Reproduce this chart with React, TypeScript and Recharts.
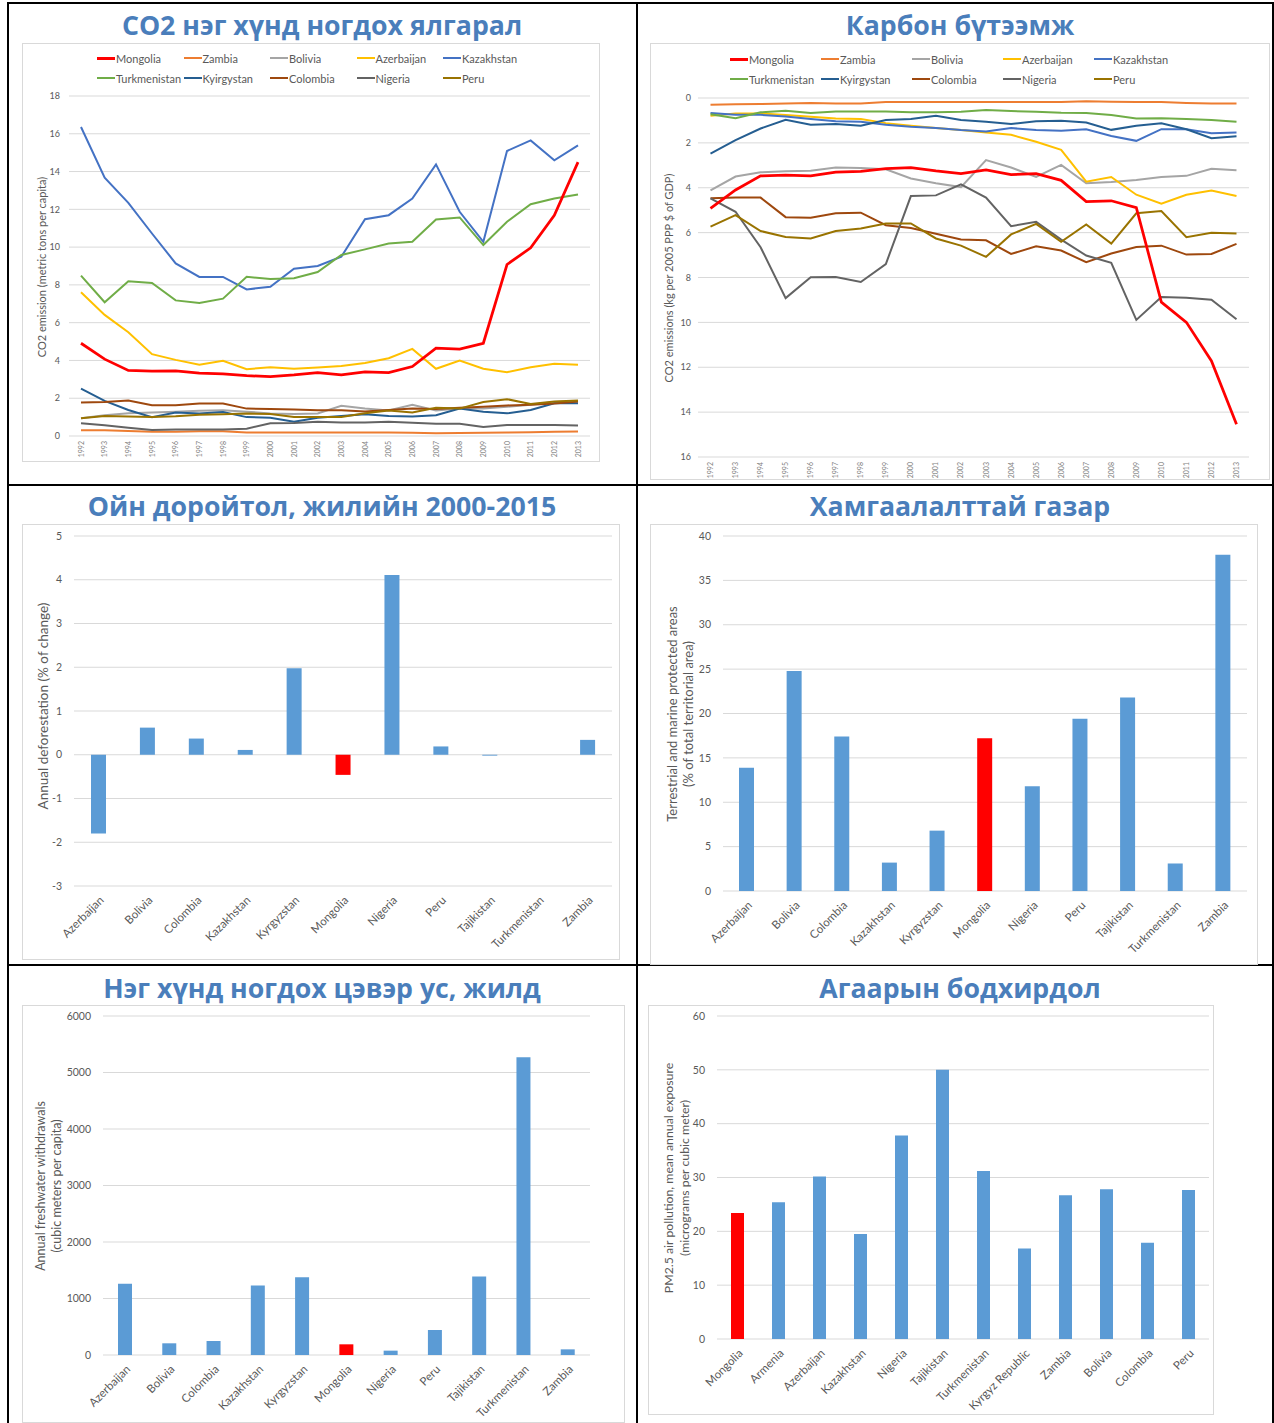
import React from 'react'
import { LineChart, Line, BarChart, Bar, Cell, XAxis, YAxis, CartesianGrid } from 'recharts'

const FONT = "Lato, 'Open Sans', sans-serif"
const TITLE_FONT = "'Open Sans', 'Noto Sans', sans-serif"
const TEXT = '#595959'
const GRID = '#d9d9d9'
const BLUE = '#5b9bd5'
const RED = '#ff0000'
const TITLE_BLUE = '#4a7ebb'

const years = ['1992', '1993', '1994', '1995', '1996', '1997', '1998', '1999', '2000', '2001', '2002',
  '2003', '2004', '2005', '2006', '2007', '2008', '2009', '2010', '2011', '2012', '2013']

// CO2 emission, metric tons per capita
const co2Mongolia = [4.91, 4.07, 3.47, 3.43, 3.45, 3.33, 3.29, 3.19, 3.15, 3.24, 3.36, 3.24, 3.40, 3.36, 3.68, 4.65, 4.60, 4.91, 9.08, 9.96, 11.69, 14.50]
const co2Zambia = [0.30, 0.30, 0.27, 0.23, 0.23, 0.25, 0.25, 0.19, 0.18, 0.18, 0.18, 0.18, 0.18, 0.18, 0.17, 0.14, 0.16, 0.17, 0.18, 0.20, 0.23, 0.24]
const co2Bolivia = [0.94, 1.10, 1.20, 1.24, 1.29, 1.34, 1.36, 1.29, 1.19, 1.17, 1.19, 1.60, 1.45, 1.35, 1.65, 1.35, 1.45, 1.45, 1.55, 1.65, 1.80, 1.85]
const co2Azerbaijan = [7.61, 6.41, 5.49, 4.33, 4.03, 3.77, 3.98, 3.54, 3.64, 3.56, 3.63, 3.71, 3.86, 4.12, 4.61, 3.56, 4.00, 3.56, 3.38, 3.64, 3.82, 3.77]
const co2Kazakhstan = [16.36, 13.68, 12.34, 10.72, 9.14, 8.42, 8.42, 7.76, 7.90, 8.86, 9.00, 9.49, 11.48, 11.69, 12.57, 14.38, 11.87, 10.28, 15.09, 15.65, 14.60, 15.39]
const co2Turkmenistan = [8.49, 7.08, 8.19, 8.10, 7.18, 7.04, 7.27, 8.43, 8.31, 8.35, 8.68, 9.58, 9.88, 10.19, 10.28, 11.46, 11.57, 10.11, 11.34, 12.27, 12.57, 12.78]
const co2Kyrgyzstan = [2.51, 1.86, 1.38, 1.00, 1.24, 1.19, 1.27, 1.00, 0.97, 0.76, 0.97, 1.06, 1.15, 1.06, 1.03, 1.10, 1.45, 1.29, 1.20, 1.38, 1.73, 1.73]
const co2Colombia = [1.77, 1.80, 1.88, 1.63, 1.63, 1.72, 1.72, 1.45, 1.43, 1.40, 1.36, 1.36, 1.30, 1.38, 1.45, 1.43, 1.50, 1.55, 1.62, 1.65, 1.72, 1.82]
const co2Nigeria = [0.67, 0.57, 0.44, 0.32, 0.34, 0.35, 0.35, 0.39, 0.67, 0.69, 0.76, 0.72, 0.72, 0.75, 0.70, 0.65, 0.65, 0.48, 0.58, 0.58, 0.58, 0.55]
const co2Peru = [0.94, 1.06, 1.03, 1.00, 1.04, 1.13, 1.15, 1.19, 1.17, 1.00, 1.00, 1.00, 1.20, 1.35, 1.25, 1.50, 1.45, 1.80, 1.95, 1.70, 1.82, 1.88]

// CO2 emissions, kg per 2005 PPP $ of GDP
const prodMongolia = [4.92, 4.10, 3.47, 3.44, 3.47, 3.30, 3.27, 3.15, 3.10, 3.25, 3.37, 3.20, 3.41, 3.37, 3.67, 4.62, 4.58, 4.89, 9.10, 10.00, 11.72, 14.54]
const prodZambia = [0.30, 0.28, 0.27, 0.25, 0.22, 0.24, 0.24, 0.18, 0.18, 0.18, 0.18, 0.18, 0.18, 0.18, 0.18, 0.15, 0.17, 0.18, 0.18, 0.22, 0.25, 0.25]
const prodBolivia = [4.12, 3.50, 3.31, 3.27, 3.24, 3.10, 3.12, 3.18, 3.59, 3.80, 3.97, 2.77, 3.10, 3.52, 2.98, 3.80, 3.74, 3.65, 3.52, 3.47, 3.15, 3.22]
const prodAzerbaijan = [0.79, 0.69, 0.69, 0.76, 0.84, 0.91, 0.94, 1.12, 1.24, 1.34, 1.43, 1.54, 1.64, 1.95, 2.31, 3.73, 3.52, 4.31, 4.71, 4.31, 4.12, 4.37]
const prodKazakhstan = [0.67, 0.75, 0.75, 0.82, 0.94, 1.04, 1.06, 1.19, 1.28, 1.34, 1.43, 1.49, 1.34, 1.43, 1.46, 1.39, 1.69, 1.91, 1.39, 1.39, 1.57, 1.54]
const prodTurkmenistan = [0.72, 0.90, 0.64, 0.57, 0.67, 0.60, 0.60, 0.60, 0.63, 0.64, 0.61, 0.54, 0.58, 0.61, 0.66, 0.67, 0.76, 0.91, 0.90, 0.94, 0.98, 1.06]
const prodKyrgyzstan = [2.48, 1.88, 1.36, 0.97, 1.19, 1.16, 1.24, 0.98, 0.94, 0.79, 0.98, 1.06, 1.16, 1.04, 1.01, 1.09, 1.42, 1.24, 1.13, 1.39, 1.79, 1.71]
const prodColombia = [4.47, 4.44, 4.44, 5.31, 5.34, 5.14, 5.11, 5.67, 5.79, 6.05, 6.31, 6.34, 6.95, 6.61, 6.80, 7.32, 6.93, 6.64, 6.58, 6.98, 6.95, 6.50]
const prodNigeria = [4.47, 5.07, 6.65, 8.92, 7.99, 7.98, 8.20, 7.40, 4.37, 4.34, 3.85, 4.44, 5.71, 5.52, 6.31, 7.02, 7.35, 9.89, 8.87, 8.90, 8.99, 9.86]
const prodPeru = [5.73, 5.22, 5.93, 6.19, 6.26, 5.93, 5.82, 5.59, 5.59, 6.26, 6.58, 7.08, 6.08, 5.61, 6.41, 5.64, 6.49, 5.14, 5.04, 6.20, 6.01, 6.04]

const countries = ['Azerbaijan', 'Bolivia', 'Colombia', 'Kazakhstan', 'Kyrgyzstan', 'Mongolia', 'Nigeria', 'Peru', 'Tajikistan', 'Turkmenistan', 'Zambia']
const deforestation = [-1.8, 0.62, 0.37, 0.11, 1.98, -0.46, 4.11, 0.19, -0.02, 0, 0.34]
const protectedAreas = [13.9, 24.8, 17.4, 3.2, 6.8, 17.2, 11.8, 19.4, 21.8, 3.1, 37.9]
const freshwater = [1259, 207, 248, 1229, 1377, 189, 77, 443, 1389, 5272, 100]

const pmCountries = ['Mongolia', 'Armenia', 'Azerbaijan', 'Kazakhstan', 'Nigeria', 'Tajikistan', 'Turkmenistan', 'Kyrgyz Republic', 'Zambia', 'Bolivia', 'Colombia', 'Peru']
const pm25 = [23.4, 25.4, 30.2, 19.5, 37.8, 50, 31.2, 16.8, 26.7, 27.8, 17.9, 27.7]

const lineSeries = [
  { name: 'Mongolia', color: '#ff0000', width: 2.75 },
  { name: 'Zambia', color: '#ed7d31', width: 2 },
  { name: 'Bolivia', color: '#a5a5a5', width: 2 },
  { name: 'Azerbaijan', color: '#ffc000', width: 2 },
  { name: 'Kazakhstan', color: '#4472c4', width: 2 },
  { name: 'Turkmenistan', color: '#70ad47', width: 2 },
  { name: 'Kyirgystan', color: '#255e91', width: 2 },
  { name: 'Colombia', color: '#9e480e', width: 2 },
  { name: 'Nigeria', color: '#636363', width: 2 },
  { name: 'Peru', color: '#997300', width: 2 },
]

const co2Table = years.map((year, i) => ({
  year,
  Mongolia: co2Mongolia[i], Zambia: co2Zambia[i], Bolivia: co2Bolivia[i], Azerbaijan: co2Azerbaijan[i],
  Kazakhstan: co2Kazakhstan[i], Turkmenistan: co2Turkmenistan[i], Kyirgystan: co2Kyrgyzstan[i],
  Colombia: co2Colombia[i], Nigeria: co2Nigeria[i], Peru: co2Peru[i],
}))

const prodTable = years.map((year, i) => ({
  year,
  Mongolia: prodMongolia[i], Zambia: prodZambia[i], Bolivia: prodBolivia[i], Azerbaijan: prodAzerbaijan[i],
  Kazakhstan: prodKazakhstan[i], Turkmenistan: prodTurkmenistan[i], Kyirgystan: prodKyrgyzstan[i],
  Colombia: prodColombia[i], Nigeria: prodNigeria[i], Peru: prodPeru[i],
}))

const YearTick = (props: any) => {
  const { x, y, payload } = props
  const tx = x + 2.5
  const ty = y - 3
  return (
    <text x={tx} y={ty} transform={`rotate(-90 ${tx} ${ty})`} textAnchor="end" fontSize={7} fill="#7f7f7f" fontFamily={FONT}>
      {payload.value}
    </text>
  )
}

const CatTick = (props: any) => {
  const { x, y, payload } = props
  const tx = x + 6
  const ty = y + 7
  return (
    <text x={tx} y={ty} transform={`rotate(-45 ${tx} ${ty})`} textAnchor="end" fontSize={11.5} fill={TEXT} fontFamily={FONT}>
      {payload.value}
    </text>
  )
}

function AxisTitle({ cx, cy, lines, size }: { cx: number; cy: number; lines: string[]; size: number }) {
  return (
    <div
      style={{
        position: 'absolute', left: cx, top: cy,
        transform: 'translate(-50%, -50%) rotate(-90deg)',
        whiteSpace: 'nowrap', textAlign: 'center',
        fontSize: size, lineHeight: '16px', color: TEXT, fontFamily: FONT,
      }}
    >
      {lines.map(l => <div key={l}>{l}</div>)}
    </div>
  )
}

function LineLegend({ x, y, colW }: { x: number; y: number; colW: number }) {
  return (
    <div style={{ position: 'absolute', left: x, top: y }}>
      {lineSeries.map((s, i) => (
        <div
          key={s.name}
          style={{
            position: 'absolute', left: (i % 5) * colW, top: Math.floor(i / 5) * 20,
            display: 'flex', alignItems: 'center', height: 14,
            fontSize: 11, color: TEXT, fontFamily: FONT, whiteSpace: 'nowrap',
          }}
        >
          <span style={{ display: 'inline-block', width: 18, height: s.name === 'Mongolia' ? 3 : 2, background: s.color, marginRight: 1 }} />
          {s.name}
        </div>
      ))}
    </div>
  )
}

function Title({ cx, cy, text }: { cx: number; cy: number; text: string }) {
  return (
    <div
      style={{
        position: 'absolute', left: cx - 320, top: cy - 19, width: 640, height: 38, lineHeight: '38px',
        textAlign: 'center', fontFamily: TITLE_FONT, fontWeight: 700, fontSize: 26.7, color: TITLE_BLUE,
      }}
    >
      {text}
    </div>
  )
}

const boxStyle = (left: number, top: number, width: number, height: number): React.CSSProperties => ({
  position: 'absolute', left, top, width, height, border: `1px solid ${GRID}`, boxSizing: 'border-box', background: '#fff',
})

function CountryLines({ box, data, domain, ticks, reversed, margin, yWidth, xHeight, pad, yTickMargin, legend, yTitle }: any) {
  const drawOrder = [...lineSeries.slice(1), lineSeries[0]]
  return (
    <div style={boxStyle(box.left, box.top, box.width, box.height)}>
      <LineLegend x={legend.x} y={legend.y} colW={legend.colW} />
      <AxisTitle cx={yTitle.x} cy={yTitle.y} lines={yTitle.lines} size={11} />
      <div style={{ position: 'absolute', left: -1, top: -1 }}>
        <LineChart width={box.width} height={box.height} data={data} margin={margin}>
          <CartesianGrid vertical={false} stroke={GRID} />
          <XAxis dataKey="year" interval={0} height={xHeight} padding={{ left: pad, right: pad }}
            axisLine={false} tickLine={false} tick={<YearTick />} />
          <YAxis type="number" domain={domain} ticks={ticks} reversed={reversed} width={yWidth} interval={0}
            axisLine={false} tickLine={false} tickMargin={yTickMargin}
            tick={{ fontSize: 9, fill: TEXT, fontFamily: FONT }} />
          {drawOrder.map(s => (
            <Line key={s.name} type="linear" dataKey={s.name} stroke={s.color} strokeWidth={s.width}
              dot={false} activeDot={false} isAnimationActive={false} />
          ))}
        </LineChart>
      </div>
    </div>
  )
}

function CountryBars({ box, cats, values, highlight, domain, ticks, margin, yWidth, xHeight, barSize, yTitle }: any) {
  const data = cats.map((c: string, i: number) => ({ country: c, value: values[i] }))
  return (
    <div style={boxStyle(box.left, box.top, box.width, box.height)}>
      <AxisTitle cx={yTitle.x} cy={yTitle.y} lines={yTitle.lines} size={yTitle.size} />
      <div style={{ position: 'absolute', left: -1, top: -1 }}>
        <BarChart width={box.width} height={box.height} data={data} margin={margin}>
          <CartesianGrid vertical={false} stroke={GRID} />
          <XAxis dataKey="country" interval={0} height={xHeight} axisLine={false} tickLine={false} tick={<CatTick />} />
          <YAxis type="number" domain={domain} ticks={ticks} width={yWidth} interval={0}
            axisLine={false} tickLine={false} tickMargin={6}
            tick={{ fontSize: 10.5, fill: TEXT, fontFamily: FONT }} />
          <Bar dataKey="value" barSize={barSize} isAnimationActive={false}>
            {data.map((d: any) => (
              <Cell key={d.country} fill={d.country === highlight ? RED : BLUE} />
            ))}
          </Bar>
        </BarChart>
      </div>
    </div>
  )
}

export default function App() {
  const line = (left: number, top: number, width: number, height: number) => (
    <div style={{ position: 'absolute', left, top, width, height, background: '#000' }} />
  )
  return (
    <div style={{ position: 'absolute', left: 0, top: 0, width: 1274, height: 1423, background: '#fff', overflow: 'hidden' }}>
      {line(7, 2, 1267, 2)}
      {line(7, 2, 2, 1421)}
      {line(636, 2, 2, 1421)}
      {line(1272, 2, 2, 1421)}
      {line(7, 484, 1267, 2)}
      {line(7, 964, 1267, 2)}

      <Title cx={322} cy={25} text="CO2 нэг хүнд ногдох ялгарал" />
      <Title cx={960} cy={25} text="Карбон бүтээмж" />
      <Title cx={322} cy={506} text="Ойн доройтол, жилийн 2000-2015" />
      <Title cx={960} cy={506} text="Хамгаалалттай газар" />
      <Title cx={322} cy={988} text="Нэг хүнд ногдох цэвэр ус, жилд" />
      <Title cx={960} cy={988} text="Агаарын бодхирдол" />

      <CountryLines
        box={{ left: 22, top: 43, width: 578, height: 419 }}
        data={co2Table}
        domain={[0, 18]}
        ticks={[0, 2, 4, 6, 8, 10, 12, 14, 16, 18]}
        reversed={false}
        margin={{ top: 53, right: 10, left: 0, bottom: 2 }}
        yWidth={47}
        xHeight={24}
        pad={12}
        yTickMargin={3}
        legend={{ x: 74, y: 7, colW: 86.5 }}
        yTitle={{ x: 19, y: 223, lines: ['CO2 emission (metric tons per capita)'] }}
      />

      <CountryLines
        box={{ left: 650, top: 43, width: 620, height: 437 }}
        data={prodTable}
        domain={[0, 16]}
        ticks={[0, 2, 4, 6, 8, 10, 12, 14, 16]}
        reversed={true}
        margin={{ top: 55, right: 21, left: 0, bottom: 2 }}
        yWidth={48}
        xHeight={21}
        pad={12.5}
        yTickMargin={1}
        legend={{ x: 79, y: 8, colW: 91 }}
        yTitle={{ x: 18, y: 234, lines: ['CO2 emissions (kg per 2005 PPP $ of GDP)'] }}
      />

      <CountryBars
        box={{ left: 22, top: 524, width: 598, height: 436 }}
        cats={countries}
        values={deforestation}
        highlight="Mongolia"
        domain={[-3, 5]}
        ticks={[-3, -2, -1, 0, 1, 2, 3, 4, 5]}
        margin={{ top: 12, right: 8, left: 0, bottom: 4 }}
        yWidth={52}
        xHeight={70}
        barSize={15}
        yTitle={{ x: 20, y: 181, size: 13.5, lines: ['Annual deforestation (% of change)'] }}
      />

      <CountryBars
        box={{ left: 650, top: 524, width: 608, height: 441 }}
        cats={countries}
        values={protectedAreas}
        highlight="Mongolia"
        domain={[0, 40]}
        ticks={[0, 5, 10, 15, 20, 25, 30, 35, 40]}
        margin={{ top: 12, right: 11, left: 0, bottom: 4 }}
        yWidth={73}
        xHeight={70}
        barSize={15}
        yTitle={{ x: 29, y: 189, size: 13, lines: ['Terrestrial and marine protected areas', '(% of total territorial area)'] }}
      />

      <CountryBars
        box={{ left: 22, top: 1005, width: 603, height: 418 }}
        cats={countries}
        values={freshwater}
        highlight="Mongolia"
        domain={[0, 6000]}
        ticks={[0, 1000, 2000, 3000, 4000, 5000, 6000]}
        margin={{ top: 11, right: 35, left: 0, bottom: 4 }}
        yWidth={81}
        xHeight={64}
        barSize={14}
        yTitle={{ x: 26, y: 180, size: 12.5, lines: ['Annual freshwater withdrawals', '(cubic meters per capita)'] }}
      />

      <CountryBars
        box={{ left: 648, top: 1005, width: 566, height: 410 }}
        cats={pmCountries}
        values={pm25}
        highlight="Mongolia"
        domain={[0, 60]}
        ticks={[0, 10, 20, 30, 40, 50, 60]}
        margin={{ top: 11, right: 5, left: 0, bottom: 4 }}
        yWidth={69}
        xHeight={72}
        barSize={13}
        yTitle={{ x: 28, y: 172, size: 12.3, lines: ['PM2.5 air pollution, mean annual exposure', '(micrograms per cubic meter)'] }}
      />
    </div>
  )
}
